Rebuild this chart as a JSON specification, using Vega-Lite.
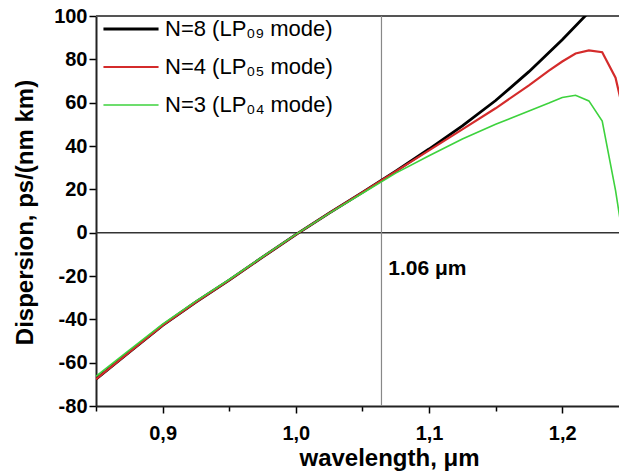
{
  "$schema": "https://vega.github.io/schema/vega-lite/v6.json",
  "autosize": {"type": "none"},
  "width": 523,
  "height": 390,
  "padding": {"left": 96, "top": 16, "right": 0, "bottom": 65},
  "background": "white",
  "config": {"view": {"stroke": null}, "font": "Liberation Sans"},
  "datasets": {
    "curves": [
      {"s": "N=8 (LP₀₉ mode)", "wl": 0.85, "D": -67.6},
      {"s": "N=8 (LP₀₉ mode)", "wl": 0.875, "D": -55.2},
      {"s": "N=8 (LP₀₉ mode)", "wl": 0.9, "D": -42.8},
      {"s": "N=8 (LP₀₉ mode)", "wl": 0.925, "D": -32.0},
      {"s": "N=8 (LP₀₉ mode)", "wl": 0.95, "D": -21.9},
      {"s": "N=8 (LP₀₉ mode)", "wl": 0.975, "D": -11.3},
      {"s": "N=8 (LP₀₉ mode)", "wl": 1.0, "D": -0.9},
      {"s": "N=8 (LP₀₉ mode)", "wl": 1.025, "D": 9.0},
      {"s": "N=8 (LP₀₉ mode)", "wl": 1.05, "D": 18.6},
      {"s": "N=8 (LP₀₉ mode)", "wl": 1.075, "D": 28.4},
      {"s": "N=8 (LP₀₉ mode)", "wl": 1.1, "D": 38.6},
      {"s": "N=8 (LP₀₉ mode)", "wl": 1.125, "D": 49.3},
      {"s": "N=8 (LP₀₉ mode)", "wl": 1.15, "D": 61.0},
      {"s": "N=8 (LP₀₉ mode)", "wl": 1.175, "D": 74.3},
      {"s": "N=8 (LP₀₉ mode)", "wl": 1.2, "D": 89.0},
      {"s": "N=8 (LP₀₉ mode)", "wl": 1.225, "D": 105.0},
      {"s": "N=8 (LP₀₉ mode)", "wl": 1.24, "D": 115.0},
      {"s": "N=4 (LP₀₅ mode)", "wl": 0.85, "D": -67.6},
      {"s": "N=4 (LP₀₅ mode)", "wl": 0.875, "D": -55.2},
      {"s": "N=4 (LP₀₅ mode)", "wl": 0.9, "D": -42.8},
      {"s": "N=4 (LP₀₅ mode)", "wl": 0.925, "D": -32.0},
      {"s": "N=4 (LP₀₅ mode)", "wl": 0.95, "D": -21.9},
      {"s": "N=4 (LP₀₅ mode)", "wl": 0.975, "D": -11.3},
      {"s": "N=4 (LP₀₅ mode)", "wl": 1.0, "D": -0.9},
      {"s": "N=4 (LP₀₅ mode)", "wl": 1.025, "D": 9.0},
      {"s": "N=4 (LP₀₅ mode)", "wl": 1.05, "D": 18.6},
      {"s": "N=4 (LP₀₅ mode)", "wl": 1.075, "D": 28.3},
      {"s": "N=4 (LP₀₅ mode)", "wl": 1.1, "D": 38.0},
      {"s": "N=4 (LP₀₅ mode)", "wl": 1.125, "D": 47.7},
      {"s": "N=4 (LP₀₅ mode)", "wl": 1.15, "D": 57.4},
      {"s": "N=4 (LP₀₅ mode)", "wl": 1.175, "D": 68.0},
      {"s": "N=4 (LP₀₅ mode)", "wl": 1.19, "D": 74.8},
      {"s": "N=4 (LP₀₅ mode)", "wl": 1.2, "D": 79.0},
      {"s": "N=4 (LP₀₅ mode)", "wl": 1.21, "D": 82.7},
      {"s": "N=4 (LP₀₅ mode)", "wl": 1.22, "D": 84.1},
      {"s": "N=4 (LP₀₅ mode)", "wl": 1.23, "D": 83.3},
      {"s": "N=4 (LP₀₅ mode)", "wl": 1.24, "D": 71.5},
      {"s": "N=4 (LP₀₅ mode)", "wl": 1.25, "D": 45.0},
      {"s": "N=3 (LP₀₄ mode)", "wl": 0.85, "D": -66.3},
      {"s": "N=3 (LP₀₄ mode)", "wl": 0.875, "D": -54.2},
      {"s": "N=3 (LP₀₄ mode)", "wl": 0.9, "D": -42.2},
      {"s": "N=3 (LP₀₄ mode)", "wl": 0.925, "D": -31.6},
      {"s": "N=3 (LP₀₄ mode)", "wl": 0.95, "D": -21.6},
      {"s": "N=3 (LP₀₄ mode)", "wl": 0.975, "D": -11.1},
      {"s": "N=3 (LP₀₄ mode)", "wl": 1.0, "D": -0.8},
      {"s": "N=3 (LP₀₄ mode)", "wl": 1.025, "D": 8.9},
      {"s": "N=3 (LP₀₄ mode)", "wl": 1.05, "D": 18.2},
      {"s": "N=3 (LP₀₄ mode)", "wl": 1.075, "D": 27.5},
      {"s": "N=3 (LP₀₄ mode)", "wl": 1.1, "D": 35.5},
      {"s": "N=3 (LP₀₄ mode)", "wl": 1.125, "D": 43.2},
      {"s": "N=3 (LP₀₄ mode)", "wl": 1.15, "D": 50.0},
      {"s": "N=3 (LP₀₄ mode)", "wl": 1.175, "D": 56.2},
      {"s": "N=3 (LP₀₄ mode)", "wl": 1.19, "D": 59.8},
      {"s": "N=3 (LP₀₄ mode)", "wl": 1.2, "D": 62.4},
      {"s": "N=3 (LP₀₄ mode)", "wl": 1.21, "D": 63.4},
      {"s": "N=3 (LP₀₄ mode)", "wl": 1.22, "D": 60.8},
      {"s": "N=3 (LP₀₄ mode)", "wl": 1.23, "D": 51.5},
      {"s": "N=3 (LP₀₄ mode)", "wl": 1.24, "D": 19.5},
      {"s": "N=3 (LP₀₄ mode)", "wl": 1.25, "D": -20.0}
    ]
  },
  "layer": [
    {
      "data": {"values": [{"v": 100}]},
      "mark": {"type": "rule", "color": "#555", "strokeWidth": 2},
      "encoding": {"y": {"field": "v", "type": "quantitative"}}
    },
    {
      "data": {"values": [{"v": 0}]},
      "mark": {"type": "rule", "color": "#333", "strokeWidth": 1.5},
      "encoding": {"y": {"field": "v", "type": "quantitative"}}
    },
    {
      "data": {"values": [{"w": 1.0643}]},
      "mark": {"type": "rule", "color": "#888", "strokeWidth": 1.2},
      "encoding": {"x": {"field": "w", "type": "quantitative"}}
    },
    {
      "data": {"name": "curves"},
      "mark": {"type": "line", "clip": true},
      "encoding": {
        "x": {
          "field": "wl", "type": "quantitative",
          "scale": {"domain": [0.85, 1.2426], "nice": false, "zero": false},
          "axis": {
            "values": [0.85, 0.9, 0.95, 1.0, 1.05, 1.1, 1.15, 1.2],
            "labelExpr": "round(datum.value*100) % 10 === 0 ? replace(format(datum.value, '.1f'), '.', ',') : ''",
            "tickSize": {"condition": {"test": "round(datum.value*100) % 10 !== 0", "value": 5}, "value": 7},
            "tickColor": "black", "tickWidth": 1.5,
            "domainColor": "#222", "domainWidth": 2,
            "labelFontSize": 20, "labelFontWeight": "bold", "labelColor": "black", "labelPadding": 10,
            "labelFlush": false, "labelOverlap": false,
            "grid": false,
            "title": "wavelength, μm",
            "titleFontSize": 24, "titleFontWeight": "bold", "titleColor": "black",
            "titleX": 293, "titleY": 59, "titleAlign": "center", "titleBaseline": "alphabetic"
          }
        },
        "y": {
          "field": "D", "type": "quantitative",
          "scale": {"domain": [-80, 100], "nice": false, "zero": false},
          "axis": {
            "values": [-80, -70, -60, -50, -40, -30, -20, -10, 0, 10, 20, 30, 40, 50, 60, 70, 80, 90, 100],
            "labelExpr": "datum.value % 20 === 0 ? '' + datum.value : ''",
            "tickSize": {"condition": {"test": "datum.value % 20 !== 0", "value": 4}, "value": 7},
            "tickColor": "black", "tickWidth": 1.5,
            "domainColor": "#222", "domainWidth": 2,
            "labelFontSize": 20, "labelFontWeight": "bold", "labelColor": "black", "labelPadding": 2,
            "labelOverlap": false,
            "grid": false,
            "title": "Dispersion, ps/(nm km)",
            "titleFontSize": 24, "titleFontWeight": "bold", "titleColor": "black",
            "titleX": -64, "titleY": 196, "titleAngle": 270, "titleAlign": "center", "titleBaseline": "alphabetic"
          }
        },
        "color": {
          "field": "s", "type": "nominal",
          "scale": {"domain": ["N=8 (LP₀₉ mode)", "N=4 (LP₀₅ mode)", "N=3 (LP₀₄ mode)"], "range": ["#000000", "#d42b2b", "#3dd23d"]},
          "legend": {
            "title": null, "orient": "none", "legendX": 24, "legendY": 2,
            "symbolType": "M-2.9,0H2.9", "symbolSize": 361, "symbolStrokeWidth": 2.5,
            "labelFontSize": 22, "labelColor": "black", "labelOffset": 23, "labelLimit": 400, "rowPadding": 16, "padding": 0
          }
        },
        "strokeWidth": {
          "field": "s", "type": "nominal",
          "scale": {"domain": ["N=8 (LP₀₉ mode)", "N=4 (LP₀₅ mode)", "N=3 (LP₀₄ mode)"], "range": [2.8, 1.6, 2.2]},
          "legend": null
        },
        "order": {"field": "wl", "type": "quantitative"}
      }
    },
    {
      "data": {"values": [{"w": 1.0694, "v": -19.5, "t": "1.06 μm"}]},
      "mark": {"type": "text", "align": "left", "baseline": "alphabetic", "fontSize": 21, "fontWeight": "bold", "color": "black"},
      "encoding": {
        "x": {"field": "w", "type": "quantitative"},
        "y": {"field": "v", "type": "quantitative"},
        "text": {"field": "t", "type": "nominal"}
      }
    }
  ]
}
